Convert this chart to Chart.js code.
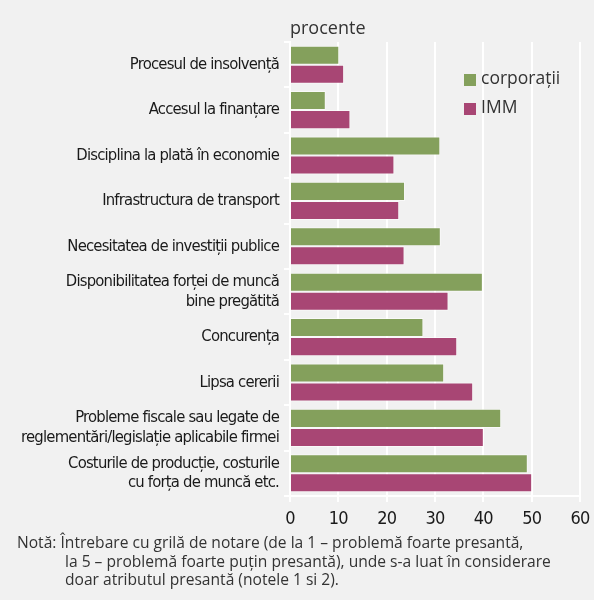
<!DOCTYPE html>
<html>
<head>
<meta charset="utf-8">
<script src="https://cdn.jsdelivr.net/npm/chart.js@4/dist/chart.umd.min.js"></script>
<style>
  html, body { margin: 0; padding: 0; background: #f1f1f1; }
  #wrap { position: relative; width: 594px; height: 600px; background: #f1f1f1; overflow: hidden; }
  #c { position: absolute; left: 0; top: 0; }
  #unit { position: absolute; left: 290px; top: 15px; font-family: "Open Sans", sans-serif; font-size: 18px; color: #333; }
  #note { position: absolute; left: 17px; top: 533px; width: 580px; white-space: nowrap; font-family: "Open Sans", sans-serif; font-size: 15.6px; line-height: 18.5px; color: #333; padding-left: 48px; text-indent: -48px; }
</style>
</head>
<body>
<div id="wrap">
  <canvas id="c" width="594" height="542"></canvas>
  <div id="unit">procente</div>
  <div id="note">Notă: Întrebare cu grilă de notare (de la 1 – problemă foarte presantă,<br>la 5 – problemă foarte puțin presantă), unde s-a luat în considerare<br>doar atributul presantă (notele 1 si 2).</div>
</div>
<script>
const categories = [
  ["Procesul de insolvență"],
  ["Accesul la finanțare"],
  ["Disciplina la plată în economie"],
  ["Infrastructura de transport"],
  ["Necesitatea de investiții publice"],
  ["Disponibilitatea forței de muncă", "bine pregătită"],
  ["Concurența"],
  ["Lipsa cererii"],
  ["Probleme fiscale sau legate de", "reglementări/legislație aplicabile firmei"],
  ["Costurile de producție, costurile", "cu forța de muncă etc."]
];
const corporatii = [10.2, 7.4, 31.1, 23.8, 31.2, 39.9, 27.6, 31.9, 43.7, 49.2];
const imm = [11.2, 12.5, 21.6, 22.6, 23.7, 32.8, 34.6, 37.9, 40.1, 50.1];
const xTicks = [0, 10, 20, 30, 40, 50, 60];
const seriesNames = ["corporații", "IMM"];

const labelFont = '"DejaVu Sans Condensed", "Liberation Sans Narrow", sans-serif';

// tighten letter spacing of axis labels (condensed look of the original)
const spacingPlugin = {
  id: 'tightText',
  beforeDraw(chart) { chart.ctx.letterSpacing = '-0.8px'; },
  afterDraw(chart) { chart.ctx.letterSpacing = '0px'; }
};

const legendPlugin = {
  id: 'insideLegend',
  afterDraw(chart) {
    const ctx = chart.ctx;
    const a = chart.chartArea;
    const x0 = a.left + 174, y0 = a.top + 32;
    ctx.save();
    ctx.letterSpacing = '0px';
    chart.data.datasets.forEach((ds, i) => {
      const y = y0 + i * 29;
      ctx.fillStyle = ds.backgroundColor;
      ctx.fillRect(x0, y, 12, 12);
      ctx.fillStyle = '#333';
      ctx.font = '17.5px "Open Sans", sans-serif';
      ctx.textBaseline = 'middle';
      ctx.textAlign = 'left';
      ctx.fillText(ds.label, x0 + 17, y + 5);
    });
    ctx.restore();
  }
};

new Chart(document.getElementById('c'), {
  type: 'bar',
  data: {
    labels: categories,
    datasets: [
      { label: seriesNames[0], data: corporatii, backgroundColor: '#84a05c', borderColor: 'rgba(255,255,255,0.55)', borderWidth: 1 },
      { label: seriesNames[1], data: imm, backgroundColor: '#a84674', borderColor: 'rgba(255,255,255,0.55)', borderWidth: 1 }
    ]
  },
  options: {
    indexAxis: 'y',
    responsive: false,
    animation: false,
    devicePixelRatio: 1,
    categoryPercentage: 0.84,
    barPercentage: 1,
    layout: { padding: { left: 0, right: 14, top: 42, bottom: 0 } },
    plugins: { legend: { display: false }, tooltip: { enabled: false }, title: { display: false } },
    scales: {
      x: {
        min: 0, max: 60,
        afterBuildTicks(scale) { scale.ticks = xTicks.map(v => ({ value: v })); },
        afterFit(scale) { scale.height = 46; scale.paddingLeft = 0; scale.paddingRight = 0; },
        grid: { color: '#ffffff', lineWidth: 2, tickLength: 6, drawTicks: true },
        border: { color: '#ffffff', width: 2 },
        ticks: { color: '#1a1a1a', padding: 7, font: { family: labelFont, size: 18 } }
      },
      y: {
        afterFit(scale) { scale.width = 290; scale.paddingTop = 0; scale.paddingBottom = 0; },
        grid: { offset: true, drawOnChartArea: false, drawTicks: true, tickLength: 6, color: '#ffffff', lineWidth: 2 },
        border: { color: '#ffffff', width: 2 },
        ticks: { color: '#1a1a1a', padding: 5, font: { family: labelFont, size: 16.5, lineHeight: 1.2 }, autoSkip: false }
      }
    }
  },
  plugins: [spacingPlugin, legendPlugin]
});
</script>
</body>
</html>
